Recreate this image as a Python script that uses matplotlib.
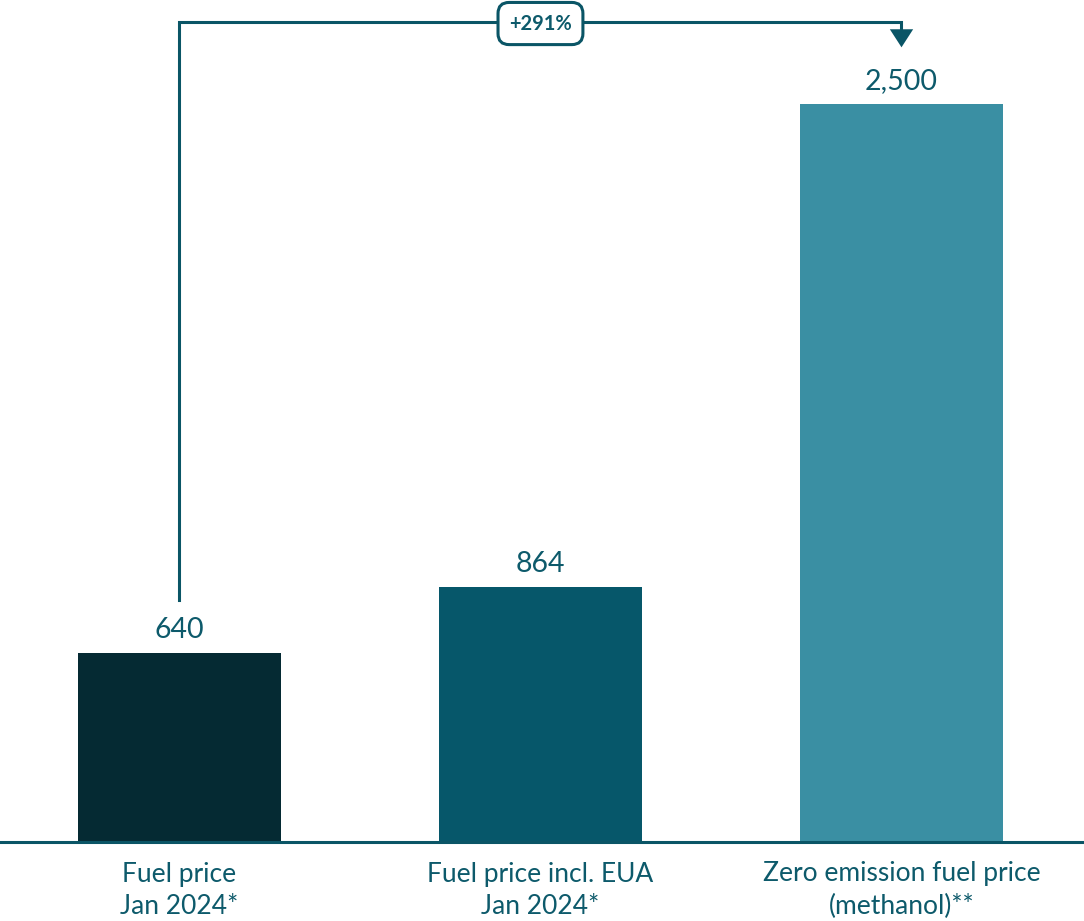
import matplotlib.pyplot as plt
from matplotlib.patches import FancyArrowPatch

categories = ["Fuel price\nJan 2024*", "Fuel price incl. EUA\nJan 2024*",
              "Zero emission fuel price\n(methanol)**"]
values = [640, 864, 2500]
value_labels = ["640", "864", "2,500"]
change_label = "+291%"

bar_colors = ["#052A33", "#06576A", "#3A8FA3"]
text_color = "#0D5A6B"
line_color = "#0A5566"

plt.rcParams['font.family'] = ['Lato', 'DejaVu Sans']

fig = plt.figure(figsize=(10.84, 9.21), dpi=100)
ax = fig.add_axes([0, 0, 1, 1])
ax.set_xlim(-0.497, 2.5055)
ax.set_ylim(-267.6, 2852.7)
ax.axis('off')

x = list(range(len(values)))
ax.bar(x, values, width=0.562, color=bar_colors, zorder=2)
ax.axhline(0, color=line_color, lw=2.2, zorder=3)

for xi, v, lab in zip(x, values, value_labels):
    ax.text(xi, v + 51, lab, ha='center', va='baseline', fontsize=20.5, color=text_color)

for xi, cat in zip(x, categories):
    ax.text(xi, -163, cat, ha='center', va='center', fontsize=19, color=text_color,
            linespacing=1.36)

# Bracket from first bar to third bar with arrow
top_y = 2778
ax.plot([0, 0, 2, 2], [820, top_y, top_y, 2720], color=line_color, lw=2.2,
        solid_joinstyle='miter', zorder=3)
ax.add_patch(FancyArrowPatch((2, 2730), (2, 2683), arrowstyle='-|>,head_length=0.65,head_width=0.42',
                             mutation_scale=20, color=line_color, lw=0, zorder=4))
ax.text(1, top_y - 5, change_label, ha='center', va='center', fontsize=14.5, fontweight='bold',
        color=text_color, zorder=5,
        bbox=dict(boxstyle='round,pad=0.55,rounding_size=0.55', fc='white', ec=line_color, lw=2.2))

fig.savefig("out.png", dpi=100)
